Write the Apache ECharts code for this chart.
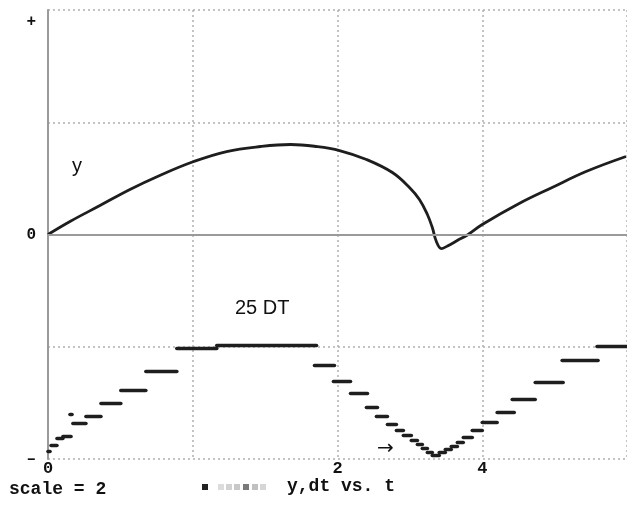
<!DOCTYPE html>
<html>
<head>
<meta charset="utf-8">
<script src="https://cdn.jsdelivr.net/npm/echarts@6/dist/echarts.min.js"></script>
<style>
  html, body { margin: 0; padding: 0; background: #fff; }
  #chart { width: 627px; height: 508px; }
</style>
</head>
<body>
<div id="chart"></div>
<script>
// Response y(t): sampled points [t, y]
const yCurveT = [0, 0.152, 0.359, 0.566, 0.772, 1.007, 1.234, 1.469, 1.676, 1.855, 2.014, 2.200, 2.379, 2.497, 2.566, 2.621, 2.655, 2.683, 2.717, 2.760, 2.830, 2.900, 3.000, 3.255, 3.483, 3.717, 3.993];
const yCurveV = [0, 0.116, 0.258, 0.401, 0.526, 0.650, 0.739, 0.784, 0.802, 0.784, 0.748, 0.668, 0.552, 0.419, 0.312, 0.178, 0.062, -0.062, -0.125, -0.102, -0.052, -0.002, 0.089, 0.276, 0.419, 0.561, 0.695];

// Step size 25·dt, held constant over each integration interval [tStart, tEnd]
const dtStart = [0.000, 0.021, 0.062, 0.103, 0.152, 0.172, 0.262, 0.366, 0.503, 0.676, 0.890, 1.166, 1.841, 1.972, 2.090, 2.200, 2.269, 2.345, 2.407, 2.455, 2.510, 2.552, 2.586, 2.621, 2.655, 2.703, 2.745, 2.786, 2.828, 2.869, 2.931, 3.000, 3.103, 3.207, 3.366, 3.552, 3.793];
const dtEnd   = [0.014, 0.062, 0.103, 0.159, 0.166, 0.262, 0.366, 0.503, 0.676, 0.890, 1.166, 1.855, 1.979, 2.090, 2.207, 2.276, 2.345, 2.407, 2.455, 2.510, 2.552, 2.586, 2.621, 2.655, 2.703, 2.745, 2.786, 2.828, 2.869, 2.931, 3.000, 3.103, 3.221, 3.366, 3.559, 3.800, 4.000];
const dtLevel = [-1.933, -1.880, -1.817, -1.800, -1.604, -1.684, -1.621, -1.506, -1.390, -1.220, -1.016, -0.989, -1.167, -1.310, -1.416, -1.541, -1.621, -1.693, -1.746, -1.791, -1.835, -1.871, -1.906, -1.942, -1.969, -1.942, -1.915, -1.889, -1.853, -1.809, -1.746, -1.675, -1.586, -1.470, -1.318, -1.122, -0.998];

// Tick labels by tick value
const xTickLabels = { 0: '0', 2: '2', 3: '4' };
const yTickLabels = { 2: '+', 0: '0', '-2': '–' };

const curveData = yCurveT.map((t, i) => [t, yCurveV[i]]);
const stepData = dtStart.map((s, i) => [s, dtEnd[i], dtLevel[i]]);

const MONO = '"Liberation Mono", "DejaVu Sans Mono", monospace';
const SANS = '"Liberation Sans", Arial, sans-serif';
const INK = '#1e1e1e';
const GRIDC = '#b0b0b0';

const chart = echarts.init(document.getElementById('chart'), null, { renderer: 'canvas' });

chart.setOption({
  animation: false,
  backgroundColor: '#fff',
  grid: { left: 48, top: 10, width: 581, height: 449, containLabel: false },
  xAxis: {
    type: 'value', min: 0, max: 4, interval: 1,
    axisLine: { show: false },
    axisTick: { show: false },
    axisLabel: {
      margin: 1,
      fontFamily: MONO, fontWeight: 'bold', fontSize: 17, color: '#111',
      formatter: v => xTickLabels[v] || '',
      showMaxLabel: false
    },
    splitLine: { show: true, lineStyle: { color: GRIDC, width: 1.5, type: [2, 3] } }
  },
  yAxis: {
    type: 'value', min: -2, max: 2, interval: 1,
    axisLine: { show: true, onZero: false, lineStyle: { color: '#9a9a9a', width: 2 } },
    axisTick: { show: false },
    axisLabel: {
      margin: 12,
      fontFamily: MONO, fontWeight: 'bold', fontSize: 16, color: '#111',
      formatter: v => {
        const s = yTickLabels[String(v)] || '';
        return s === '+' ? '{p|+}' : s;
      },
      rich: { p: { fontFamily: MONO, fontWeight: 'bold', fontSize: 16, color: '#111', padding: [24, 0, 0, 0] } }
    },
    splitLine: { show: true, lineStyle: { color: GRIDC, width: 1.5, type: [2, 3] } }
  },
  series: [
    {
      type: 'line',
      data: curveData,
      smooth: 0.4,
      showSymbol: false,
      lineStyle: { color: INK, width: 2.8 },
      z: 3,
      markLine: {
        silent: true,
        symbol: 'none',
        label: { show: false },
        lineStyle: { color: '#9a9a9a', width: 2, type: 'solid' },
        data: [{ yAxis: 0 }]
      }
    },
    {
      type: 'custom',
      data: stepData,
      encode: { x: [0, 1], y: 2 },
      z: 4,
      renderItem: (params, api) => {
        const p0 = api.coord([api.value(0), api.value(2)]);
        const p1 = api.coord([api.value(1), api.value(2)]);
        return {
          type: 'line',
          shape: { x1: p0[0], y1: p0[1], x2: p1[0], y2: p1[1] },
          style: { stroke: INK, lineWidth: 3.6, lineCap: 'round' }
        };
      }
    }
  ],
  graphic: [
    { type: 'text', left: 72, top: 156, style: { text: 'y', font: '20px ' + SANS, fill: '#111' } },
    { type: 'text', left: 235, top: 298, style: { text: '25 DT', font: '20px ' + SANS, fill: '#111' } },
    { type: 'text', left: 377, top: 439, style: { text: '→', font: '20px "DejaVu Sans", sans-serif', fill: '#111' } },
    { type: 'text', left: 9, top: 480, style: { text: 'scale = 2', font: 'bold 18px ' + MONO, fill: '#111' } },
    { type: 'text', left: 287, top: 477, style: { text: 'y,dt vs. t', font: 'bold 18px ' + MONO, fill: '#111' } },
    { type: 'rect', shape: { x: 202, y: 484, width: 6, height: 6 }, style: { fill: '#222' } },
    { type: 'rect', shape: { x: 218, y: 484, width: 6, height: 6 }, style: { fill: '#dcdcdc' } },
    { type: 'rect', shape: { x: 226, y: 484, width: 6, height: 6 }, style: { fill: '#d2d2d2' } },
    { type: 'rect', shape: { x: 234, y: 484, width: 6, height: 6 }, style: { fill: '#c8c8c8' } },
    { type: 'rect', shape: { x: 243, y: 484, width: 6, height: 6 }, style: { fill: '#7a7a7a' } },
    { type: 'rect', shape: { x: 252, y: 484, width: 6, height: 6 }, style: { fill: '#c0c0c0' } },
    { type: 'rect', shape: { x: 260, y: 484, width: 6, height: 6 }, style: { fill: '#d6d6d6' } }
  ]
});
</script>
</body>
</html>
